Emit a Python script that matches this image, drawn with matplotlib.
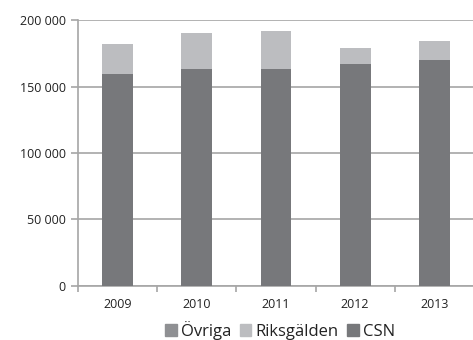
import matplotlib.pyplot as plt
from matplotlib.ticker import FuncFormatter
from matplotlib.patches import Patch

plt.rcParams['font.family'] = ['Open Sans', 'DejaVu Sans']

years = ['2009', '2010', '2011', '2012', '2013']
csn = [159600, 162900, 163400, 167100, 170200]
riksgalden = [22600, 27500, 28000, 11600, 13700]
ovriga = [0, 0, 0, 0, 0]

c_csn = '#77787b'
c_riks = '#bcbdc0'
c_ovr = '#8f9093'

fig = plt.figure(figsize=(4.73, 3.4), dpi=100)
ax = fig.add_axes([0.165, 0.159, 0.837, 0.782])

x = range(len(years))
w = 0.39
ax.bar(x, csn, w, color=c_csn, zorder=3)
bot = [a + b for a, b in zip(csn, riksgalden)]
ax.bar(x, riksgalden, w, bottom=csn, color=c_riks, zorder=3)
ax.bar(x, ovriga, w, bottom=bot, color=c_ovr, zorder=3)

ax.set_xlim(-0.5, 4.5)
ax.set_ylim(0, 200000)
ax.set_yticks([0, 50000, 100000, 150000, 200000])
ax.yaxis.set_major_formatter(FuncFormatter(lambda v, p: f'{int(v):,}'.replace(',', ' ')))
ax.yaxis.grid(True, color='#a6a6a6', linewidth=1.2, zorder=0)

ax.set_xticks(list(x))
ax.set_xticklabels(years)
ax.set_xticks([i + 0.5 for i in range(-1, 5)], minor=True)
ax.tick_params(axis='x', which='major', length=0, pad=9, labelsize=9, colors='#222222')
ax.tick_params(axis='x', which='minor', length=4, color='#a6a6a6', width=1.2)
ax.tick_params(axis='y', length=5, color='#a6a6a6', width=1.2, labelsize=9, labelcolor='#222222', pad=4)

for s in ['top', 'right']:
    ax.spines[s].set_visible(False)
ax.spines['left'].set_color('#a6a6a6')
ax.spines['left'].set_linewidth(1.2)
ax.spines['bottom'].set_color('#a6a6a6')
ax.spines['bottom'].set_linewidth(1.2)

handles = [Patch(color=c_ovr, label='Övriga'),
           Patch(color=c_riks, label='Riksgälden'),
           Patch(color=c_csn, label='CSN')]
fig.legend(handles=handles, loc='center', bbox_to_anchor=(0.592, 0.028), ncol=3,
           frameon=False, fontsize=12, handlelength=0.7, handleheight=0.7,
           handletextpad=0.25, columnspacing=0.5, borderpad=0, labelcolor='#222222')

fig.savefig('out.png', dpi=100)
